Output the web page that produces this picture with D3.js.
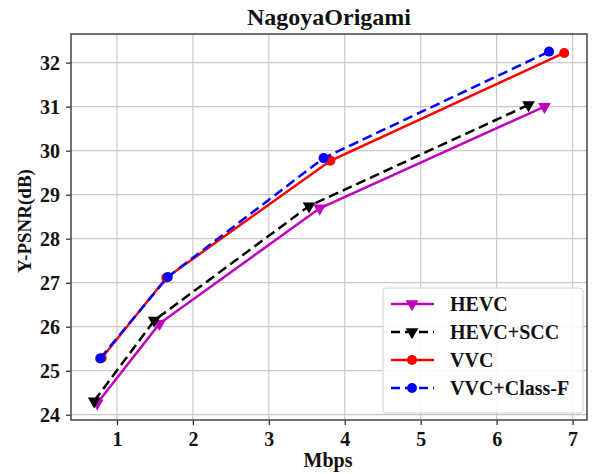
<!DOCTYPE html>
<html>
<head>
<meta charset="utf-8">
<script src="https://cdn.jsdelivr.net/npm/d3@7"></script>
<style>
  body { margin: 0; background: #fff; }
  text { font-family: "Liberation Serif", "DejaVu Serif", serif; font-weight: bold; }
</style>
</head>
<body>
<div id="chart"></div>
<script>
// Data
const seriesNames = ["HEVC", "HEVC+SCC", "VVC", "VVC+Class-F"];
const hevcRate = [0.74, 1.56, 3.67, 6.63];
const hevcPsnr = [24.26, 26.07, 28.69, 31.0];
const sccRate = [0.70, 1.49, 3.53, 6.42];
const sccPsnr = [24.31, 26.14, 28.74, 31.04];
const vvcRate = [0.80, 1.65, 3.81, 6.89];
const vvcPsnr = [25.29, 27.11, 29.77, 32.22];
const classFRate = [0.78, 1.67, 3.72, 6.69];
const classFPsnr = [25.28, 27.13, 29.83, 32.25];
const xTicks = [1, 2, 3, 4, 5, 6, 7];
const yTicks = [24, 25, 26, 27, 28, 29, 30, 31, 32];

const W = 595, H = 474;
const margin = { top: 34, right: 8, bottom: 54, left: 71 };
const width = W - margin.left - margin.right;
const height = H - margin.top - margin.bottom;

const x = d3.scaleLinear().domain([0.395, 7.19]).range([0, width]);
const y = d3.scaleLinear().domain([23.88, 32.65]).range([height, 0]);

const svg = d3.select("#chart").append("svg")
  .attr("width", W).attr("height", H);
const g = svg.append("g").attr("transform", `translate(${margin.left},${margin.top})`);

// grid
g.selectAll(".xg").data(xTicks).join("line")
  .attr("x1", d => x(d)).attr("x2", d => x(d))
  .attr("y1", 0).attr("y2", height)
  .attr("stroke", "#c8c8c8").attr("stroke-width", 1.2);
g.selectAll(".yg").data(yTicks).join("line")
  .attr("x1", 0).attr("x2", width)
  .attr("y1", d => y(d)).attr("y2", d => y(d))
  .attr("stroke", "#c8c8c8").attr("stroke-width", 1.2);

// axes
const xAxis = g.append("g").attr("transform", `translate(0,${height})`)
  .call(d3.axisBottom(x).tickValues(xTicks).tickSize(5).tickPadding(7).tickFormat(d3.format("d")));
const yAxis = g.append("g")
  .call(d3.axisLeft(y).tickValues(yTicks).tickSize(5).tickPadding(6).tickFormat(d3.format("d")));
[xAxis, yAxis].forEach(a => {
  a.select(".domain").remove();
  a.selectAll(".tick line").attr("stroke", "#222").attr("stroke-width", 1.2);
  a.selectAll(".tick text").attr("fill", "#111").style("font-size", "20px")
    .style("font-family", "'Liberation Serif', serif").style("font-weight", "bold");
});

// frame
g.append("rect").attr("width", width).attr("height", height)
  .attr("fill", "none").attr("stroke", "#444").attr("stroke-width", 1.5);

// lines
const series = [
  { name: seriesNames[0], xs: hevcRate, ys: hevcPsnr, color: "#bf00bf", dash: null, marker: "tri" },
  { name: seriesNames[1], xs: sccRate, ys: sccPsnr, color: "#000000", dash: "10,5", marker: "tri" },
  { name: seriesNames[2], xs: vvcRate, ys: vvcPsnr, color: "#ff0000", dash: null, marker: "circle" },
  { name: seriesNames[3], xs: classFRate, ys: classFPsnr, color: "#0000ff", dash: "10,5", marker: "circle" }
];

const line = d3.line().x(d => x(d[0])).y(d => y(d[1]));
const triDown = d3.symbol().type(d3.symbolTriangle).size(70);

function drawMarker(sel, s, cx, cy) {
  if (s.marker === "circle") {
    sel.append("circle").attr("cx", cx).attr("cy", cy).attr("r", 5).attr("fill", s.color);
  } else {
    sel.append("path").attr("d", triDown())
      .attr("transform", `translate(${cx},${cy}) rotate(180)`).attr("fill", s.color);
  }
}

series.forEach(s => {
  const pts = s.xs.map((v, i) => [v, s.ys[i]]);
  g.append("path").datum(pts)
    .attr("fill", "none").attr("stroke", s.color).attr("stroke-width", 2.5)
    .attr("stroke-dasharray", s.dash).attr("d", line);
  pts.forEach(p => drawMarker(g, s, x(p[0]), y(p[1])));
});

// legend
const lg = svg.append("g").attr("transform", "translate(383,288)");
lg.append("rect").attr("width", 200).attr("height", 125).attr("rx", 3)
  .attr("fill", "rgba(255,255,255,0.85)").attr("stroke", "#d0d0d0").attr("stroke-width", 1);
series.forEach((s, i) => {
  const ly = 16 + i * 28;
  lg.append("line").attr("x1", 8).attr("x2", 51).attr("y1", ly).attr("y2", ly)
    .attr("stroke", s.color).attr("stroke-width", 2.5).attr("stroke-dasharray", s.dash ? "9,5" : null);
  drawMarker(lg, s, 29, ly);
  lg.append("text").attr("x", 67).attr("y", ly).attr("dy", "0.35em")
    .style("font-size", "20px").attr("fill", "#111").text(s.name);
});

// title and axis labels
svg.append("text").attr("x", margin.left + width / 2).attr("y", 25)
  .attr("text-anchor", "middle").style("font-size", "24px").attr("fill", "#111").text("NagoyaOrigami");
svg.append("text").attr("x", 328).attr("y", 467)
  .attr("text-anchor", "middle").style("font-size", "20px").attr("fill", "#111").text("Mbps");
svg.append("text").attr("transform", `translate(31,221) rotate(-90)`)
  .attr("text-anchor", "middle").style("font-size", "19px").attr("fill", "#111").text("Y-PSNR(dB)");
</script>
</body>
</html>
